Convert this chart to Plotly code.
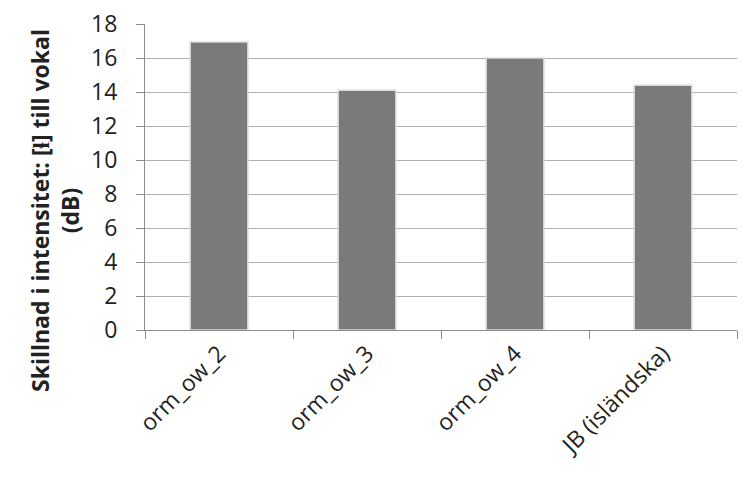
import plotly.graph_objects as go

categories = ["orm_ow_2", "orm_ow_3", "orm_ow_4", "JB (isländska)"]
values = [16.95, 14.1, 16.0, 14.4]
y_ticks = [0, 2, 4, 6, 8, 10, 12, 14, 16, 18]
y_title = "<b>Skillnad i intensitet: [ɬ] till vokal<br>(dB)</b>"

FONT = "Open Sans"

fig = go.Figure()
fig.add_trace(go.Bar(
    x=categories, y=values,
    marker=dict(color="#7a7a7a", line=dict(color="#dadada", width=1.5)),
    width=0.39,
))

# page body has an 8px default margin, so the figure is offset by 8px
fig.update_layout(
    width=740, height=470,
    margin=dict(l=137, r=11, t=16, b=148),
    paper_bgcolor="white", plot_bgcolor="white",
    showlegend=False,
    font=dict(family=FONT, size=23, color="#222222"),
)
fig.update_yaxes(
    range=[0, 18.002], tickvals=y_ticks, automargin=False,
    showgrid=True, gridcolor="#b0b0b0", gridwidth=1,
    showline=True, linecolor="#8c8c8c", linewidth=1,
    ticks="outside", ticklen=8, tickcolor="#8c8c8c",
    ticklabelstandoff=14, ticklabeloverflow="allow",
    tickfont=dict(family=FONT, size=23, color="#222222"),
    zeroline=False,
)
fig.update_xaxes(
    automargin=False,
    showline=True, linecolor="#8c8c8c", linewidth=1,
    ticks="outside", ticklen=8, tickcolor="#8c8c8c", tickson="boundaries",
    tickangle=-45, ticklabeloverflow="allow",
    tickfont=dict(family=FONT, size=23, color="#222222"),
)
fig.add_annotation(
    text=y_title, textangle=-90, showarrow=False,
    xref="paper", yref="paper", x=-0.152, y=0.389,
    xanchor="center", yanchor="middle",
    font=dict(family=FONT, size=23, color="#222222"),
)

fig.write_html("out.html")
